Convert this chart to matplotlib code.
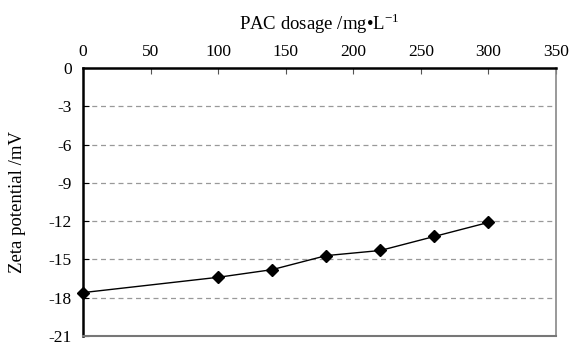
import matplotlib.pyplot as plt
import numpy as np

plt.rcParams['font.family'] = ['Liberation Serif', 'DejaVu Serif']
plt.rcParams['axes.unicode_minus'] = False
plt.rcParams['mathtext.fontset'] = 'custom'
plt.rcParams['mathtext.rm'] = 'Liberation Serif'

dosage = [0, 100, 140, 180, 220, 260, 300]
zeta = [-17.6, -16.4, -15.8, -14.7, -14.3, -13.2, -12.1]
x_ticks = [0, 50, 100, 150, 200, 250, 300, 350]
y_ticks = [0, -3, -6, -9, -12, -15, -18, -21]

fig = plt.figure(figsize=(5.74, 3.47), dpi=100)
ax = fig.add_axes([83 / 574, 1 - 336 / 347, (556 - 83) / 574, (336 - 68) / 347])

ax.plot(dosage, zeta, color="black", lw=1, marker="D", ms=6.5, zorder=3, clip_on=False)

ax.set_xlim(0, 350)
ax.set_ylim(-21, 0)
ax.set_xticks(x_ticks)
ax.set_yticks(y_ticks)
ax.set_yticklabels([str(v) for v in y_ticks])
ax.xaxis.tick_top()
ax.xaxis.set_label_position("top")
ax.tick_params(axis="x", direction="in", length=4, color="#555555", labelsize=12.5, pad=6)
ax.tick_params(axis="y", direction="in", length=4, color="black", labelsize=12.5, pad=8)

for y in y_ticks[1:-1]:
    ax.axhline(y, color="#999999", lw=0.9, ls=(0, (4, 3)), zorder=1)

ax.spines["top"].set_linewidth(1.8)
ax.spines["left"].set_linewidth(1.8)
ax.spines["right"].set_color("#888888")
ax.spines["right"].set_linewidth(1.2)
ax.spines["bottom"].set_color("#777777")
ax.spines["bottom"].set_linewidth(1.5)

ax.set_xlabel("PAC dosage /mg\u2022L$^{\\mathrm{-1}}$", fontsize=13.5, labelpad=10)
ax.set_ylabel("Zeta potential /mV", fontsize=13.5, labelpad=16)

fig.savefig("out.png", dpi=100)
